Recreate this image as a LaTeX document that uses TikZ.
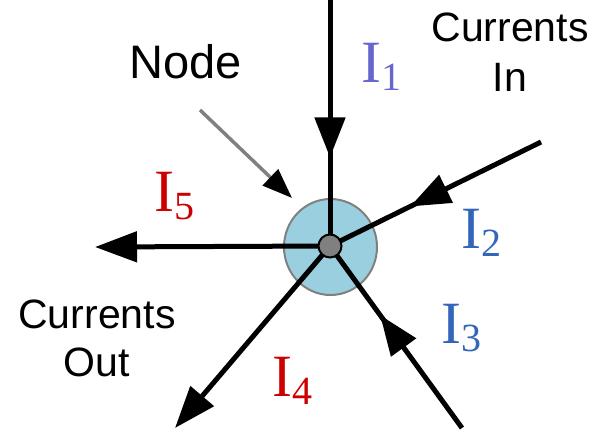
\documentclass[tikz,border=0pt]{standalone}
\usepackage{fontspec}
\setmainfont{Liberation Serif}
\newfontfamily\labelfont{Liberation Sans}
\usetikzlibrary{arrows.meta,shapes.geometric,decorations.markings}
\definecolor{padblue}{RGB}{153,207,223}
\definecolor{curblue}{RGB}{51,102,187}
\definecolor{curviolet}{RGB}{102,102,204}
\definecolor{curred}{RGB}{204,0,0}
\newcommand{\curlbl}[1]{I\raisebox{-8pt}{\fontsize{40}{40}\selectfont #1}}

\begin{document}
\begin{tikzpicture}[x=1pt, y=-1pt,
    wire/.style={line width=5pt},
    head/.style={-{Triangle[width=30pt,length=42pt]}},
    midarrow/.style={postaction={decorate}, decoration={markings,
      mark=at position #1 with {\arrow{Triangle[width=30pt,length=40pt]}}}},
    cur/.style={anchor=base west, inner sep=0pt, font=\fontsize{60}{60}\selectfont},
    txt/.style={inner sep=0pt, align=center}]
  \useasboundingbox (0,0) rectangle (591,431);

  % Junction pad
  \node[draw=gray, line width=2pt, fill=padblue, ellipse, minimum width=93pt, minimum height=96pt] (pad) at (330.5,247) {};
  \coordinate (c) at (330,246);

  % Wire ends
  \coordinate (i1) at (330,0);
  \coordinate (i2) at (541,142);
  \coordinate (i3) at (462,428);
  \coordinate (o4) at (175,428);
  \coordinate (o5) at (95,247);

  % Currents in
  \draw[wire, midarrow=0.64] (i1) -- (c);
  \draw[wire, midarrow=0.62] (i2) -- (c);
  \draw[wire, midarrow=0.62] (i3) -- (c);

  % Currents out
  \draw[wire, head] (c) -- (o4);
  \draw[wire, head] (c) -- (o5);

  \node[draw=black, line width=2pt, fill=gray, circle, minimum size=23pt, inner sep=0pt] (hub) at (c) {};

  % Labels
  \node[txt, anchor=base, font=\labelfont\fontsize{47}{47}\selectfont] (lblnode) at (185.5,78) {Node};
  \node[txt, anchor=north, font=\labelfont\fontsize{41}{50}\selectfont] (lblin) at (510,13) {Currents\\In};
  \node[txt, anchor=north, font=\labelfont\fontsize{41}{48}\selectfont] (lblout) at (97,300) {Currents\\Out};

  \coordinate (ptr) at (200,110);
  \coordinate (ptrtip) at (292,198);
  \draw[gray, line width=3.5pt, -{Triangle[width=22pt,length=30pt,color=black]}] (ptr) -- (ptrtip);

  \node[cur, curviolet] (l1) at (361,82) {\curlbl{1}};
  \node[cur, curblue] (l2) at (461,248) {\curlbl{2}};
  \node[cur, curblue] (l3) at (441,343) {\curlbl{3}};
  \node[cur, curred] (l4) at (272,396) {\curlbl{4}};
  \node[cur, curred] (l5) at (154,211) {\curlbl{5}};
\end{tikzpicture}
\end{document}
